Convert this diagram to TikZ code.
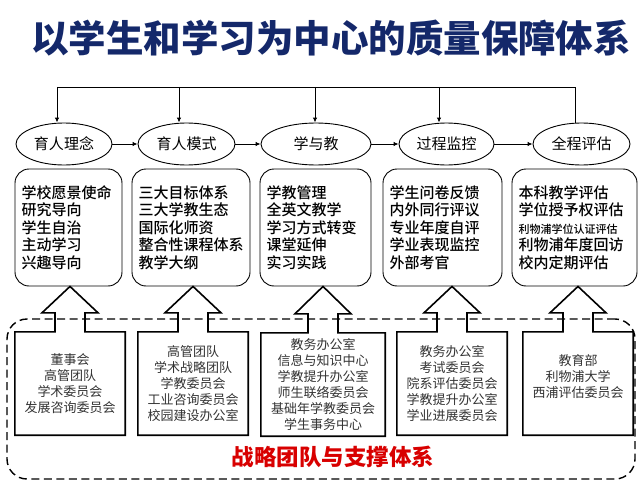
\documentclass[tikz,border=0pt]{standalone}
\usepackage{fontspec}
\setmainfont{Noto Sans CJK SC}
\newfontfamily\medfont{Noto Sans CJK SC}[UprightFont=* Medium]
\newfontfamily\blackfont{Noto Sans CJK SC}[UprightFont=* Black]
\usetikzlibrary{arrows.meta,calc,shapes.geometric}
\definecolor{titleblue}{HTML}{14286A}
\definecolor{redtxt}{HTML}{D80000}
\newcommand\blkarrow[2]{%
  \draw[blk] (#1.north west) -- ($(#1.north)+(-15,0)$) -- ++(0,-19) -- ++(-13,0)
    -- (#1.north |- #2.south) -- ($(#1.north)+(28,-19)$) -- ++(-13,0)
    -- ($(#1.north)+(15,0)$) -- (#1.north east) -- (#1.south east)
    -- (#1.south west) -- cycle;}
\begin{document}
\begin{tikzpicture}[x=1pt,y=-1pt,
  ell/.style={draw,ellipse,line width=0.9pt,minimum height=42pt,inner sep=0pt,
    font=\fontsize{15}{18}\selectfont},
  topbox/.style={draw,rounded corners=14pt,line width=0.9pt,minimum height=117pt,
    align=left,inner xsep=6.5pt,inner ysep=0pt,font=\medfont\fontsize{15}{17.5}\selectfont},
  botbox/.style={minimum width=110pt,minimum height=103pt,inner sep=0pt,align=center,
    text=black!80,font=\fontsize{13}{16}\selectfont},
  blk/.style={line width=1.6pt,line join=miter},
  conn/.style={line width=0.9pt},
  arr/.style={line width=0.9pt,-{Latex[length=5pt,width=4.5pt]}},
  frame/.style={draw,dashed,dash pattern=on 8pt off 4.5pt,line width=1.4pt,
    rounded corners=20pt,minimum width=628pt,minimum height=160pt,inner sep=0pt}
]
\useasboundingbox (0,0) rectangle (640,487);

% title
\node[font=\blackfont\fontsize{37.5}{40}\selectfont,text=titleblue] (title) at (331,38)
  {以学生和学习为中心的质量保障体系};

% ellipses
\node[ell,minimum width=96pt]  (e1) at (64,144)    {育人理念};
\node[ell,minimum width=97pt]  (e2) at (186.5,144) {育人模式};
\node[ell,minimum width=110pt] (e3) at (316,144)   {学与教};
\node[ell,minimum width=95pt]  (e4) at (446.5,144) {过程监控};
\node[ell,minimum width=97pt]  (e5) at (581.5,144) {全程评估};

\draw[arr] (e1) -- (e2);
\draw[arr] (e2) -- (e3);
\draw[arr] (e3) -- (e4);
\draw[arr] (e4) -- (e5);

% feedback line
\coordinate (t1) at (57,87);
\coordinate (t2) at (179,87);
\coordinate (t3) at (315,87);
\coordinate (t4) at (439,87);
\coordinate (t5) at (575,87);
\draw[conn] (t5 |- e5.north) -- (t5) -- (t1);
\draw[arr] (t1) -- (t1 |- e1.north);
\draw[arr] (t2) -- (t2 |- e2.north);
\draw[arr] (t3) -- (t3 |- e3.north);
\draw[arr] (t4) -- (t4 |- e4.north);

% top boxes
\node[topbox,text width=94pt]  (b1) at (68.5,227.5)
  {学校愿景使命\\研究导向\\学生自治\\主动学习\\兴趣导向};
\node[topbox,text width=105pt] (b2) at (191,227.5)
  {三大目标体系\\三大学教生态\\国际化师资\\整合性课程体系\\教学大纲};
\node[topbox,text width=98pt]  (b3) at (315.5,227.5)
  {学教管理\\全英文教学\\学习方式转变\\课堂延伸\\实习实践};
\node[topbox,text width=106pt] (b4) at (442.5,227.5)
  {学生问卷反馈\\内外同行评议\\专业年度自评\\学业表现监控\\外部考官};
\node[topbox,text width=112pt] (b5) at (574.5,227.5)
  {本科教学评估\\学位授予权评估\\{\fontsize{11}{13}\selectfont 利物浦学位认证评估}\\利物浦年度回访\\校内定期评估};

% dashed frame
\node[frame] (frm) at (321,399) {};

% bottom boxes
\node[botbox] (q1) at (70,383.5)
  {董事会\\高管团队\\学术委员会\\发展咨询委员会};
\node[botbox] (q2) at (193,383.5)
  {高管团队\\学术战略团队\\学教委员会\\工业咨询委员会\\校园建设办公室};
\node[botbox,minimum width=124pt] (q3) at (323,384.5)
  {教务办公室\\信息与知识中心\\学教提升办公室\\师生联络委员会\\基础年学教委员会\\学生事务中心};
\node[botbox] (q4) at (452,383.5)
  {教务办公室\\考试委员会\\院系评估委员会\\学教提升办公室\\学业进展委员会};
\node[botbox] (q5) at (578,383.5)
  {教育部\\利物浦大学\\西浦评估委员会\\\mbox{}};

\blkarrow{q1}{b1}
\blkarrow{q2}{b2}
\blkarrow{q3}{b3}
\blkarrow{q4}{b4}
\blkarrow{q5}{b5}

\node[text=redtxt,font=\fontsize{22.5}{27}\selectfont\bfseries] (lbl) at (333,457)
  {战略团队与支撑体系};
\end{tikzpicture}
\end{document}
